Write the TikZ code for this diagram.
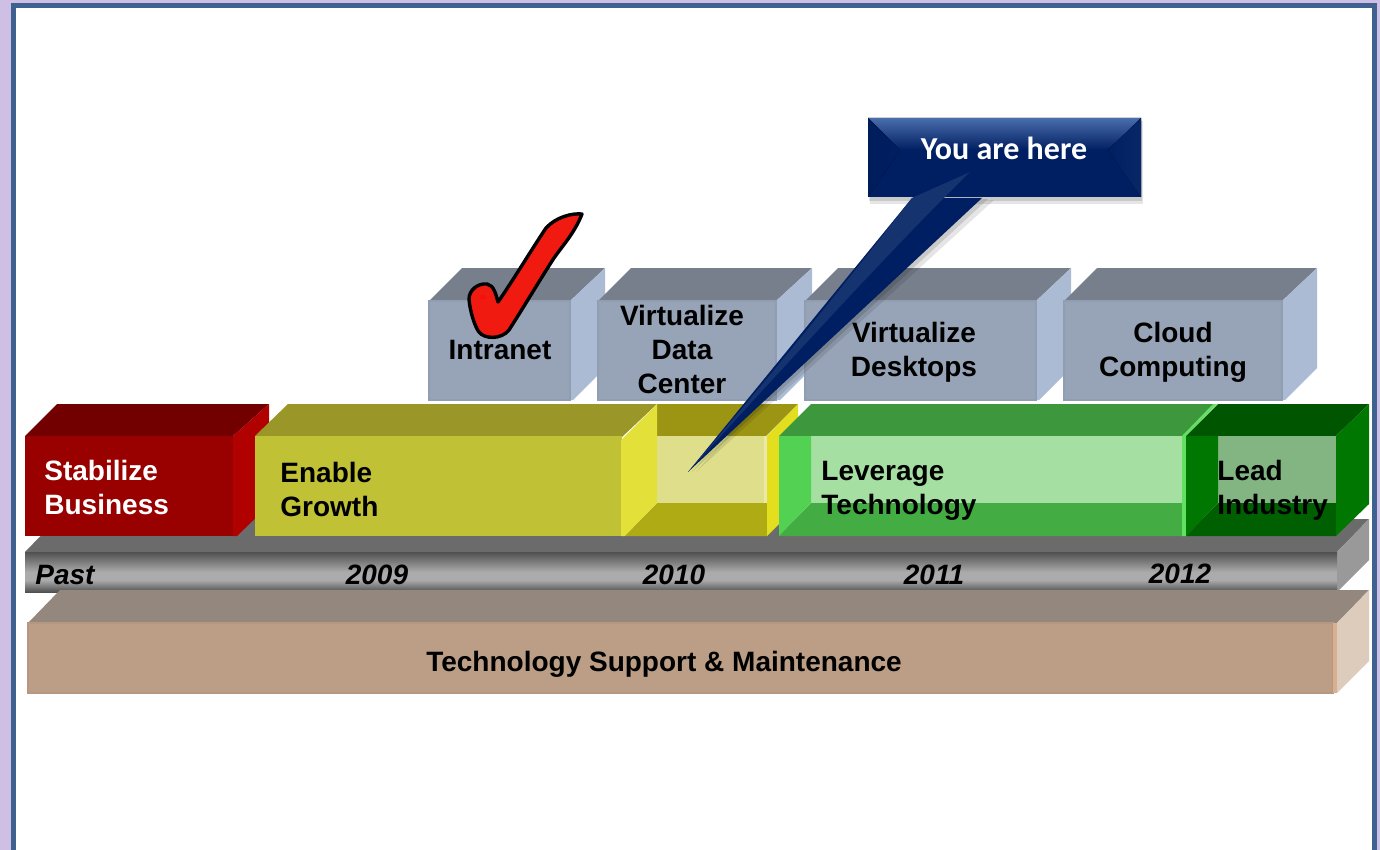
\documentclass[tikz,border=0pt]{standalone}
\usepackage{fontspec}
\usepackage{xcolor}
\setmainfont{Liberation Sans}
\newfontfamily\calloutfont{Carlito}
\definecolor{lavender}{HTML}{CFBFE4}
\definecolor{frameblue}{HTML}{3E6190}
\definecolor{navy}{HTML}{001F62}
\definecolor{navylight}{HTML}{4A6DAC}
\definecolor{navyband}{HTML}{15336F}
\definecolor{blockfront}{HTML}{97A4B7}
\definecolor{blockedge}{HTML}{919EB1}
\definecolor{blocktop}{HTML}{777F8D}
\definecolor{blockside}{HTML}{ABBBD3}
\definecolor{redfront}{HTML}{990000}
\definecolor{redtop}{HTML}{730000}
\definecolor{redside}{HTML}{B00000}
\definecolor{olivefront}{HTML}{C1C136}
\definecolor{olivetop}{HTML}{9A9628}
\definecolor{yellowpanel}{HTML}{E3E03A}
\definecolor{yellowback}{HTML}{DFDF8B}
\definecolor{yellowtop}{HTML}{9C9514}
\definecolor{yellowbottom}{HTML}{AFAB15}
\definecolor{yellowside}{HTML}{E3DE1E}
\definecolor{greenpanel}{HTML}{52D152}
\definecolor{greentop}{HTML}{3D973D}
\definecolor{greenback}{HTML}{A5E0A2}
\definecolor{greenbottom}{HTML}{43AD43}
\definecolor{greenstrip}{HTML}{62E062}
\definecolor{leadpanel}{HTML}{007700}
\definecolor{leadtop}{HTML}{005500}
\definecolor{leadback}{HTML}{83B583}
\definecolor{leadbottom}{HTML}{005F00}
\definecolor{bartop}{HTML}{6B6B6B}
\definecolor{bardark}{HTML}{505050}
\definecolor{barlight}{HTML}{ABABAB}
\definecolor{barside}{HTML}{999999}
\definecolor{tanfront}{HTML}{BB9E85}
\definecolor{tanedge}{HTML}{B5987F}
\definecolor{tantop}{HTML}{94877D}
\definecolor{tanside}{HTML}{DDCBBB}
\definecolor{tanstrip}{HTML}{D9B08F}
\definecolor{checkred}{HTML}{F01A10}

\begin{document}
\begin{tikzpicture}[x=0.5pt,y=-0.5pt,
boxlabel/.style={font=\fontsize{14}{17}\bfseries\selectfont, inner sep=0, align=center},
leftlabel/.style={boxlabel, align=left, anchor=west},
yearlabel/.style={boxlabel, font=\fontsize{14}{17}\bfseries\itshape\selectfont},
blockface/.style={fill=blockfront, draw=blockedge, line width=0.7pt}]
\useasboundingbox (0,0) rectangle (1380,850);
%page and frame
\fill[lavender] (0,0) rectangle (1380,850);
\fill[frameblue] (11,3) rectangle (1377,850);
\fill[white] (16,8) rectangle (1372,850);
%time bar
\fill[bartop] (25,552) -- (57,519) -- (1369,519) -- (1337,552) -- cycle;
\fill[barside] (1337,552) -- (1369,519) -- (1369,560) -- (1337,592) -- cycle;
\fill[top color=bardark, bottom color=barlight] (25,552) rectangle (1337,572);
\fill[barlight] (25,572) rectangle (1337,580);
\fill[top color=barlight, bottom color=bardark] (25,580) rectangle (1337,592);
%support box
\fill[tantop] (28,623) -- (60,590) -- (1369,590) -- (1337,623) -- cycle;
\fill[tanside] (1337,623) -- (1369,590) -- (1369,661) -- (1337,693) -- cycle;
\fill[tanfront, draw=tanedge, line width=0.6pt] (28,623) rectangle (1333,693);
\fill[tanstrip] (1333,623) rectangle (1337,693);
%stabilize box
\fill[redtop] (25,436) -- (57,404) -- (269,404) -- (233,436) -- cycle;
\fill[redside] (233,436) -- (269,404) -- (269,505) -- (237,536) -- (233,536) -- cycle;
\fill[redfront] (25,436) rectangle (233,536);
%enable box
\fill[olivetop] (255,436) -- (288,404) -- (657,404) -- (622,437) -- cycle;
\fill[olivefront] (255,436) rectangle (622,536);
\fill[yellowtop] (657,404) -- (798,404) -- (766,436) -- (657,436) -- cycle;
\fill[yellowback] (657,436) rectangle (764,503);
\fill[yellowback!70!white] (764,436) rectangle (767,503);
\fill[yellowbottom] (657,503) -- (767,503) -- (767,536) -- (625,536) -- cycle;
\fill[yellowpanel] (621,440) -- (657,404) -- (657,503) -- (625,536) -- (621,536) -- cycle;
\fill[yellowside] (767,436) -- (798,404) -- (798,505) -- (767,536) -- cycle;
%leverage box
\fill[greentop] (779,436) -- (811,404) -- (1215,404) -- (1183,436) -- cycle;
\fill[greenback] (811,436) rectangle (1182,503);
\fill[greenbottom] (811,503) -- (1182,503) -- (1182,536) -- (779,536) -- cycle;
\fill[greenpanel] (779,436) -- (811,436) -- (811,503) -- (779,536) -- cycle;
\fill[greenstrip] (1182,436) -- (1213,404) -- (1217,404) -- (1186,436) -- (1186,536) -- (1182,536) -- cycle;
%lead box
\fill[leadtop] (1186,436) -- (1218,404) -- (1369,404) -- (1336,436) -- cycle;
\fill[leadback] (1218,436) rectangle (1336,503);
\fill[leadbottom] (1218,503) -- (1336,503) -- (1336,536) -- (1186,536) -- cycle;
\fill[leadpanel] (1186,436) -- (1218,436) -- (1218,503) -- (1186,536) -- cycle;
\fill[leadpanel] (1336,436) -- (1369,404) -- (1369,504) -- (1336,536) -- cycle;
%upper boxes
\fill[blocktop] (429,301) -- (462,268) -- (605,268) -- (570,301) -- cycle;
\fill[blockside] (570,301) -- (605,268) -- (605,368) -- (573,400) -- (570,400) -- cycle;
\path[blockface] (429,301) rectangle (570,400);
\fill[blocktop] (598,301) -- (631,268) -- (812,268) -- (776,301) -- cycle;
\fill[blockside] (776,301) -- (812,268) -- (812,368) -- (780,400) -- (776,400) -- cycle;
\path[blockface] (598,301) rectangle (776,400);
\fill[blocktop] (805,301) -- (838,268) -- (1071,268) -- (1036,301) -- cycle;
\fill[blockside] (1036,301) -- (1071,268) -- (1071,368) -- (1039,400) -- (1036,400) -- cycle;
\path[blockface] (805,301) rectangle (1036,400);
\fill[blocktop] (1064,301) -- (1097,268) -- (1317,268) -- (1282,301) -- cycle;
\fill[blockside] (1282,301) -- (1317,268) -- (1317,368) -- (1285,400) -- (1282,400) -- cycle;
\path[blockface] (1064,301) rectangle (1282,400);
%labels
\node[leftlabel, text=white] (stabilize) at (44,487) {Stabilize\\Business};
\node[leftlabel] (enable) at (280,489) {Enable\\Growth};
\node[leftlabel] (leverage) at (821,491) {Leverage\\Technology};
\node[leftlabel] (lead) at (1217,490) {Lead\\Industry};
\node[boxlabel] (intranet) at (500,350) {Intranet};
\node[boxlabel] (datacenter) at (682,349) {Virtualize\\Data\\Center};
\node[boxlabel] (desktops) at (914,352) {Virtualize\\Desktops};
\node[boxlabel] (cloud) at (1173,352) {Cloud\\Computing};
\node[yearlabel] (past) at (65,575) {Past};
\node[yearlabel] (y2009) at (377,575) {2009};
\node[yearlabel] (y2010) at (674,575) {2010};
\node[yearlabel] (y2011) at (934,575) {2011};
\node[yearlabel] (y2012) at (1180,574) {2012};
\node[boxlabel] (support) at (664,664) {Technology Support \& Maintenance};
%check mark
\path[fill=checkred, draw=black, line width=1.7pt, line join=round]
  (582,214) .. controls (572,213) and (556,217) .. (546,228)
  .. controls (530,252) and (512,282) .. (498,302)
  .. controls (496,295) and (494,285) .. (487,284)
  .. controls (478,283) and (469,290) .. (469,299)
  .. controls (470,312) and (475,327) .. (479,332)
  .. controls (484,339) and (501,340) .. (509,330)
  .. controls (525,305) and (541,278) .. (554,258)
  .. controls (564,244) and (575,232) .. cycle;
\fill[red!40!checkred] (483,297) ellipse (3.5 and 2.5);
%callout
\fill[black, opacity=.1] (870,121) rectangle (1143,204);
\fill[black, opacity=.12] (869,120) rectangle (1142,201);
\fill[black, opacity=.1] (696,472) -- (928,206) -- (994,200) -- cycle;
\fill[black, opacity=.12] (692,472) -- (920,202) -- (988,199) -- cycle;
\fill[navy] (868,118) rectangle (1141,197);
\fill[top color=navylight, bottom color=navy] (868,118) -- (1141,118) -- (1108,150) -- (900,150) -- cycle;
\fill[left color=navy!93!black, right color=navy] (868,118) -- (900,150) -- (868,197) -- cycle;
\fill[left color=navy, right color=navy!60!navyband] (1141,118) -- (1108,150) -- (1141,197) -- cycle;
\fill[navy] (688,472) -- (912,198) -- (982,198) -- cycle;
\fill[navyband] (688,472) .. controls (780,365) and (860,265) .. (912,198) -- (970,172) .. controls (900,240) and (790,360) .. cycle;
\node[font=\calloutfont\fontsize{16}{18}\bfseries\selectfont, text=white, inner sep=0] (here) at (1004,148) {You are here};
\end{tikzpicture}
\end{document}
